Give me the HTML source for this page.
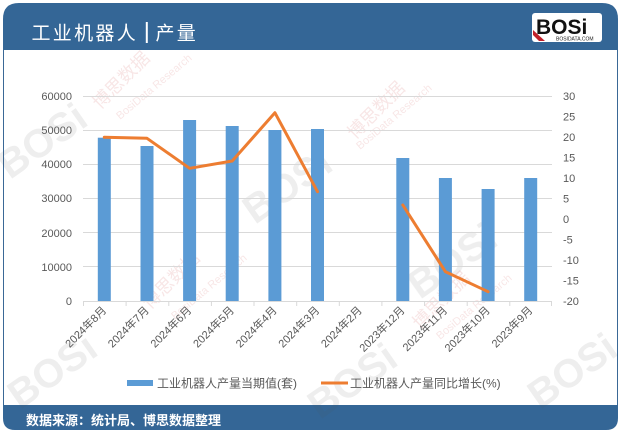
<!DOCTYPE html>
<html><head><meta charset="utf-8"><style>
html,body{margin:0;padding:0;background:#fff;}
svg{display:block;}
text{font-family:"Liberation Sans","Noto Sans CJK SC",sans-serif;}
</style></head><body>
<svg width="622" height="433" viewBox="0 0 622 433" xmlns="http://www.w3.org/2000/svg">
<rect x="0" y="0" width="622" height="433" fill="#fff"/>
<!-- body border -->
<rect x="3.5" y="40" width="614" height="375" fill="#fff" stroke="#3a6896" stroke-width="1"/>
<!-- header -->
<path d="M3,50 L3,19 Q3,3 19,3 L602,3 Q618,3 618,19 L618,50 Z" fill="#346696"/>
<text x="31.5" y="39.5" font-size="19" letter-spacing="2.3" fill="#fff">工业机器人</text>
<rect x="145.8" y="22" width="2" height="21" fill="#fff"/>
<text x="155.5" y="39.5" font-size="19" letter-spacing="2.3" fill="#fff">产量</text>
<!-- logo -->
<rect x="532" y="13" width="70" height="29" rx="3" fill="#fff"/>
<text x="536" y="34" font-size="21" font-weight="bold" fill="#111">BOSi</text>
<polygon points="533,30 545,41 539,41 533,35" fill="#c0202a"/>
<text x="556" y="40.5" font-size="5" fill="#222">BOSIDATA.COM</text>
<!-- footer -->
<path d="M3,405 L618,405 L618,418 Q618,430 606,430 L15,430 Q3,430 3,418 Z" fill="#346696"/>
<text x="26" y="425" font-size="13" font-weight="bold" fill="#fff">数据来源：统计局、博思数据整理</text>

<!-- watermarks -->
<g opacity="0.10" fill="#555" font-weight="bold" font-size="40">
<text transform="translate(10,180) rotate(-35)">BOSi</text>
<text transform="translate(255,225) rotate(-35)">BOSi</text>
<text transform="translate(420,300) rotate(-35)">BOSi</text>
<text transform="translate(20,410) rotate(-35)">BOSi</text>
<text transform="translate(320,420) rotate(-35)">BOSi</text>
<text transform="translate(540,410) rotate(-35)">BOSi</text>
</g>
<g opacity="0.12" fill="#c03030" font-size="18">
<text transform="translate(100,110) rotate(-45)">博思数据</text>
<text transform="translate(355,140) rotate(-45)">博思数据</text>
<text transform="translate(150,310) rotate(-45)">博思数据</text>
<text transform="translate(420,330) rotate(-45)">博思数据</text>
</g>
<g opacity="0.12" fill="#c03030" font-size="11">
<text transform="translate(120,120) rotate(-40)">BosiData Research</text>
<text transform="translate(360,150) rotate(-40)">BosiData Research</text>
<text transform="translate(175,320) rotate(-40)">BosiData Research</text>
<text transform="translate(440,340) rotate(-40)">BosiData Research</text>
</g>

<!-- gridlines -->
<g stroke="#d9d9d9" stroke-width="1">
<line x1="83" x2="552" y1="96.5" y2="96.5"/>
<line x1="83" x2="552" y1="130.5" y2="130.5"/>
<line x1="83" x2="552" y1="164.5" y2="164.5"/>
<line x1="83" x2="552" y1="198.5" y2="198.5"/>
<line x1="83" x2="552" y1="232.5" y2="232.5"/>
<line x1="83" x2="552" y1="266.5" y2="266.5"/>
<line x1="83" x2="552" y1="301.5" y2="301.5"/>
<line x1="83.5" x2="83.5" y1="301" y2="306"/>
<line x1="126.1" x2="126.1" y1="301" y2="306"/>
<line x1="168.8" x2="168.8" y1="301" y2="306"/>
<line x1="211.4" x2="211.4" y1="301" y2="306"/>
<line x1="254" x2="254" y1="301" y2="306"/>
<line x1="296.7" x2="296.7" y1="301" y2="306"/>
<line x1="339.3" x2="339.3" y1="301" y2="306"/>
<line x1="381.9" x2="381.9" y1="301" y2="306"/>
<line x1="424.6" x2="424.6" y1="301" y2="306"/>
<line x1="467.2" x2="467.2" y1="301" y2="306"/>
<line x1="509.8" x2="509.8" y1="301" y2="306"/>
<line x1="551.5" x2="551.5" y1="301" y2="306"/>
</g>

<!-- left axis labels -->
<g font-size="11" fill="#595959" text-anchor="end">
<text x="72" y="100">60000</text>
<text x="72" y="134">50000</text>
<text x="72" y="168">40000</text>
<text x="72" y="202">30000</text>
<text x="72" y="237">20000</text>
<text x="72" y="271">10000</text>
<text x="72" y="305">0</text>
</g>
<!-- right axis labels -->
<g font-size="11" fill="#595959">
<text x="563" y="100">30</text>
<text x="563" y="120.5">25</text>
<text x="563" y="141">20</text>
<text x="563" y="161.5">15</text>
<text x="563" y="182">10</text>
<text x="563" y="202.5">5</text>
<text x="563" y="223">0</text>
<text x="563" y="243.5">-5</text>
<text x="563" y="264">-10</text>
<text x="563" y="284.5">-15</text>
<text x="563" y="305">-20</text>
</g>

<!-- bars -->
<g fill="#5b9bd5">
<rect x="97.8" y="137.7" width="13" height="163.3"/>
<rect x="140.5" y="146" width="13" height="155"/>
<rect x="183.1" y="120" width="13" height="181"/>
<rect x="225.7" y="126" width="13" height="175"/>
<rect x="268.4" y="130" width="13" height="171"/>
<rect x="311" y="129" width="13" height="172"/>
<rect x="396.3" y="158" width="13" height="143"/>
<rect x="438.9" y="178" width="13" height="123"/>
<rect x="481.6" y="189" width="13" height="112"/>
<rect x="524.2" y="178" width="13" height="123"/>
</g>

<!-- line -->
<g fill="none" stroke="#ed7d31" stroke-width="3" stroke-linejoin="round" stroke-linecap="round">
<polyline points="104.3,137.3 147,138.3 189.6,168.3 232.2,161 274.9,112.7 317.5,191.7"/>
<polyline points="402.8,205 445.4,271.7 488.1,291.7"/>
</g>

<!-- x labels -->
<g font-size="11" fill="#595959" text-anchor="end">
<text transform="translate(107,311) rotate(-45)">2024年8月</text>
<text transform="translate(149.6,311) rotate(-45)">2024年7月</text>
<text transform="translate(192.2,311) rotate(-45)">2024年6月</text>
<text transform="translate(234.8,311) rotate(-45)">2024年5月</text>
<text transform="translate(277.5,311) rotate(-45)">2024年4月</text>
<text transform="translate(320.1,311) rotate(-45)">2024年3月</text>
<text transform="translate(362.7,311) rotate(-45)">2024年2月</text>
<text transform="translate(405.4,311) rotate(-45)">2023年12月</text>
<text transform="translate(448,311) rotate(-45)">2023年11月</text>
<text transform="translate(490.7,311) rotate(-45)">2023年10月</text>
<text transform="translate(533.3,311) rotate(-45)">2023年9月</text>
</g>

<!-- legend -->
<rect x="127" y="380" width="26" height="6" fill="#5b9bd5"/>
<text x="157" y="387.5" font-size="12" fill="#595959">工业机器人产量当期值(套)</text>
<line x1="321" x2="348" y1="383" y2="383" stroke="#ed7d31" stroke-width="3"/>
<text x="350" y="387.5" font-size="12" fill="#595959">工业机器人产量同比增长(%)</text>
</svg>
</body></html>
